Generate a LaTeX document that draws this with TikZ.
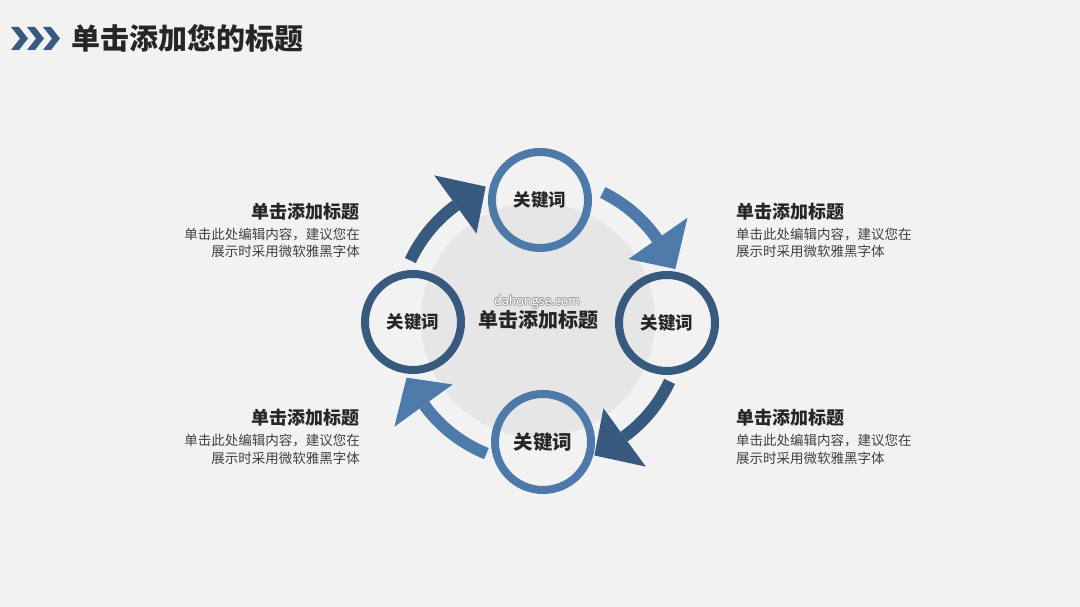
\documentclass[tikz,border=0pt]{standalone}
\usepackage{fontspec}
\setmainfont{Noto Sans CJK SC}
\usetikzlibrary{calc}
\definecolor{bg}{HTML}{F2F2F2}
\definecolor{midgray}{HTML}{E6E6E6}
\definecolor{lightblue}{HTML}{4E7AAA}
\definecolor{darkblue}{HTML}{395A7F}
\definecolor{txtdark}{HTML}{262626}
\definecolor{txtbody}{HTML}{404040}
\begin{document}
\begin{tikzpicture}[x=1pt,y=1pt,
  ring/.style={draw=#1,line width=8pt,circle,minimum size=96pt,inner sep=0pt},
  kw/.style={font=\fontsize{17.5}{20}\selectfont\bfseries,text=txtdark},
  sidetitle/.style={font=\fontsize{18}{21}\selectfont\bfseries,text=txtdark,inner sep=0pt},
  sidebody/.style={font=\fontsize{13.5}{16.5}\selectfont,text=txtbody,inner sep=0pt},
  shaft/.style={draw=#1,line width=12pt},
  head/.style={fill=#1,draw=none},
  wmark/.style={font=\fontsize{12.5}{14}\selectfont,inner sep=0pt}]
\useasboundingbox (0,0) rectangle (1080,607);
\fill[bg] (0,0) rectangle (1080,607);
% header chevrons
\foreach \x in {11,27,43}{
  \fill[darkblue] (\x,580) -- (\x+8,580) -- (\x+17,568.5) -- (\x+8,557) -- (\x,557) -- (\x+9,568.5) -- cycle;
}
\node[anchor=west,inner sep=0pt,font=\fontsize{29}{33}\selectfont\bfseries,text=txtdark] (title) at (71,569) {单击添加您的标题};
% central gray disc
\coordinate (C) at (540,286);
\fill[midgray] (538,287) circle[radius=117];
\node[font=\fontsize{20}{24}\selectfont\bfseries,text=txtdark] (ctitle) at (538,287) {单击添加标题};
% watermark (outlined text)
\foreach \dx/\dy in {0.7/0,-0.7/0,0/0.7,0/-0.7,0.5/0.5,-0.5/0.5,0.5/-0.5,-0.5/-0.5}{
  \node[wmark,text=gray!75] at ($(537,305)+(\dx,\dy)$) {dahongse.com};
}
\node[wmark,text=white] (wm) at (537,305) {dahongse.com};
% arrows
\newcommand{\arcarrow}[4]{% color, start, base, tip
  \draw[shaft=#1] ($(C)+(#2:143)$) arc[start angle=#2,end angle=#3,radius=143];
  \fill[head=#1] ($(C)+(#3:108)$) -- ($(C)+(#3:180)$) -- ($(C)+(#4:145)$) -- cycle;
}
\arcarrow{darkblue}{155}{126}{112}
\arcarrow{lightblue}{64}{35}{21}
\arcarrow{darkblue}{-25}{-54}{-68}
\arcarrow{lightblue}{248}{216}{203}
% keyword circles
\node[ring=lightblue] (top) at (540,407) {};
\node[ring=darkblue] (left) at (413,285) {};
\node[ring=darkblue] (right) at (667,284) {};
\node[ring=lightblue] (bottom) at (543,165) {};
\node[kw] (topkw) at (top) {关键词};
\node[kw] (leftkw) at (left) {关键词};
\node[kw] (rightkw) at (right) {关键词};
\node[kw,font=\fontsize{19.5}{22}\selectfont\bfseries] (bottomkw) at (bottom) {关键词};
% side texts
\node[sidetitle,anchor=east] (lt1) at (360,395) {单击添加标题};
\node[sidebody,anchor=east] (lb1a) at (360,372) {单击此处编辑内容，建议您在};
\node[sidebody,anchor=east] (lb1b) at (360,356) {展示时采用微软雅黑字体};
\node[sidetitle,anchor=west] (rt1) at (736,395) {单击添加标题};
\node[sidebody,anchor=west] (rb1a) at (736,372) {单击此处编辑内容，建议您在};
\node[sidebody,anchor=west] (rb1b) at (736,356) {展示时采用微软雅黑字体};
\node[sidetitle,anchor=east] (lt2) at (360,189) {单击添加标题};
\node[sidebody,anchor=east] (lb2a) at (360,166) {单击此处编辑内容，建议您在};
\node[sidebody,anchor=east] (lb2b) at (360,149) {展示时采用微软雅黑字体};
\node[sidetitle,anchor=west] (rt2) at (736,189) {单击添加标题};
\node[sidebody,anchor=west] (rb2a) at (736,166) {单击此处编辑内容，建议您在};
\node[sidebody,anchor=west] (rb2b) at (736,149) {展示时采用微软雅黑字体};
\end{tikzpicture}
\end{document}
